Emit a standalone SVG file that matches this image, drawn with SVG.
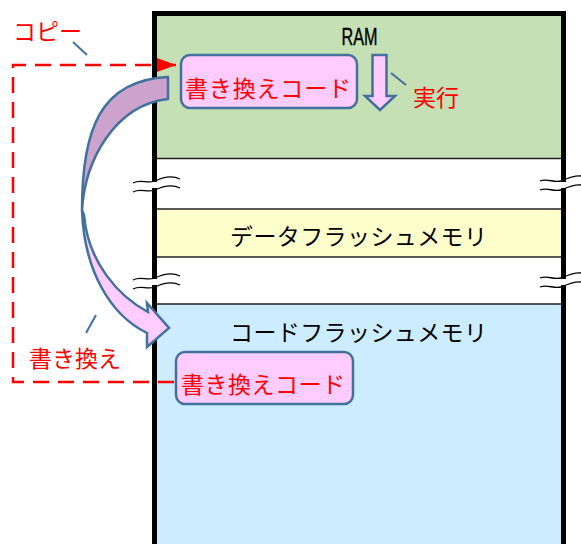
<svg xmlns="http://www.w3.org/2000/svg" width="581" height="544" viewBox="0 0 581 544">
<style>
.jp{font-family:"Noto Sans CJK JP","Noto Sans",sans-serif;font-size:23px}
.red{fill:#FF0000}
.blk{fill:#000}
.sep{stroke:#222;stroke-width:1.5;fill:none}
.brk{stroke:#000;stroke-width:1.3;fill:none}
.box{fill:#FFCCFF;stroke:#41719C;stroke-width:2.5}
.call{stroke:#41719C;stroke-width:2;fill:none}
.dash{stroke:#FF0000;stroke-width:2.5;fill:none;stroke-dasharray:16 9}
</style>
<defs>
<marker id="ah" markerWidth="19" markerHeight="14" refX="19" refY="7" orient="auto-start-reverse" markerUnits="userSpaceOnUse">
<path d="M0,0 L19,7 L0,14 Z" fill="#FF0000"/>
</marker>
</defs>
<rect width="581" height="544" fill="#fff"/>
<g id="memory">
<rect x="155" y="13" width="408" height="145" fill="#C5E0B4"/>
<rect x="155" y="209" width="408" height="48" fill="#FFFFCC"/>
<rect x="155" y="304" width="408" height="240" fill="#CCECFF"/>
<path class="sep" d="M155,158.5H562M155,209H562M155,257H562M155,304H562"/>
<path d="M154.5,544V13.5H563.5V544" fill="none" stroke="#000" stroke-width="5"/>
</g>
<g id="breaks">
<rect x="149" y="182" width="12" height="6" fill="#fff"/>
<rect x="558" y="182" width="12" height="6" fill="#fff"/>
<rect x="149" y="279" width="12" height="6" fill="#fff"/>
<rect x="558" y="279" width="12" height="6" fill="#fff"/>
<path class="brk" d="M133,183C141,179 147,184 155,181C163,177 172,175 180,179"/>
<path class="brk" d="M133,192C141,188 147,193 155,190C163,186 172,184 180,188"/>
<path class="brk" d="M540,181C548,178 553,183 561,181C568,178 575,175 581,176"/>
<path class="brk" d="M540,190C548,187 553,192 561,190C568,187 575,184 581,185"/>
<path class="brk" d="M133,280C141,276 147,281 155,278C163,274 172,272 180,276"/>
<path class="brk" d="M133,289C141,285 147,290 155,287C163,283 172,281 180,285"/>
<path class="brk" d="M540,278C548,275 553,280 561,278C568,275 575,272 581,273"/>
<path class="brk" d="M540,287C548,284 553,289 561,287C568,284 575,281 581,282"/>
</g>
<g id="labels">
<text x="359.5" y="45" font-family="Liberation Sans, sans-serif" font-size="24" text-anchor="middle" textLength="36" lengthAdjust="spacingAndGlyphs" class="blk" stroke="#000" stroke-width="0.4">RAM</text>
<text x="230" y="245" class="jp blk" textLength="257">データフラッシュメモリ</text>
<text x="230" y="341" class="jp blk" textLength="257">コードフラッシュメモリ</text>
</g>
<g id="code-ram">
<rect class="box" x="181" y="55" width="176" height="53" rx="9"/>
<text x="185" y="97" class="jp red" textLength="166">書き換えコード</text>
</g>
<g id="code-flash">
<rect class="box" x="176" y="352" width="177" height="52" rx="9"/>
<text x="181" y="393" class="jp red" textLength="164">書き換えコード</text>
</g>
<g id="exec-arrow">
<path class="box" d="M372.5,55H386.5V96H395L380,110L365,96H372.5Z" stroke-linejoin="miter"/>
</g>
<g id="connectors">
<path d="M168,77C100,80 82,130 82,210C85,160 115,105 168,99Z" fill="#CCA3CC" stroke="#41719C" stroke-width="2.5" stroke-linejoin="round"/>
<path d="M82,210C84,270 110,315 147,333L147,347L169,328L147,303L148,312C118,296 88,262 84,215Z" fill="#FFCCFF" stroke="#41719C" stroke-width="2.5" stroke-linejoin="miter"/>
<path class="dash" d="M176,65H13V382H176" marker-start="url(#ah)"/>
<path class="call" d="M73,42L87,55"/>
<path class="call" d="M391,73L406,85"/>
<path class="call" d="M86,333L96,315"/>
</g>
<g id="annotations">
<text x="13" y="40" class="jp red" textLength="69">コピー</text>
<text x="413" y="106" class="jp red" textLength="46">実行</text>
<text x="29" y="367" class="jp red" textLength="92">書き換え</text>
</g>
</svg>
